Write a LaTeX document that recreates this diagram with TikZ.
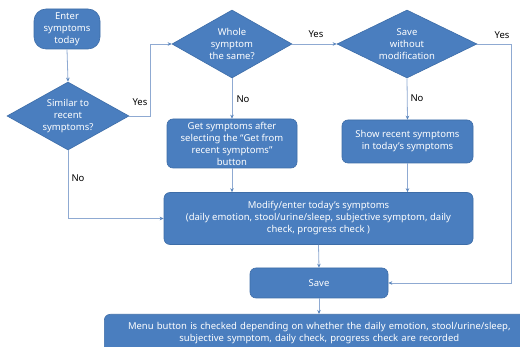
\documentclass[tikz,border=0pt]{standalone}
\usepackage{fontspec}
\setmainfont{Noto Sans}
\usetikzlibrary{shapes.geometric,arrows.meta}
\definecolor{boxfill}{HTML}{4A7EBF}
\definecolor{boxline}{HTML}{3D6DA8}
\definecolor{conn}{HTML}{8FAAD2}
\definecolor{tipc}{HTML}{5B86BE}
\begin{document}
\begin{tikzpicture}[x=1pt,y=-1pt,
  every node/.style={font=\fontsize{9.5}{12}\selectfont},
  boxst/.style={draw=boxline,fill=boxfill,text=white,line width=0.6pt,align=center,inner sep=0pt},
  rbox/.style={boxst,rectangle,rounded corners=6pt},
  dia/.style={boxst,diamond,aspect=1.8},
  conn/.style={draw=conn,line width=0.8pt},
  arr/.style={conn,-{Stealth[length=4pt,width=3.5pt,color=tipc,fill=tipc]}},
  lab/.style={text=black,inner sep=1pt}]
\clip (0,0) rectangle (520,347);
\fill[white] (0,0) rectangle (520,347);
% nodes
\node[rbox,rounded corners=12pt,minimum width=66pt,minimum height=40pt] (start) at (67,29) {Enter\\symptoms\\today};
\node[dia,minimum width=122pt,minimum height=68pt] (d1) at (68,116) {Similar to\\recent\\symptoms?};
\node[dia,minimum width=120pt,minimum height=68pt] (d2) at (232,44) {Whole\\symptom\\the same?};
\node[dia,minimum width=140pt,minimum height=68pt] (d3) at (407,44) {Save\\without\\modification};
\node[rbox,minimum width=130pt,minimum height=49pt] (get) at (232,143.5) {Get symptoms after\\selecting the ``Get from\\recent symptoms''\\button};
\node[rbox,minimum width=131pt,minimum height=43pt] (show) at (407.5,141.5) {Show recent symptoms\\in today's symptoms};
\node[rbox,minimum width=309pt,minimum height=52pt] (mod) at (318.5,218.5) {Modify/enter today's symptoms\\(daily emotion, stool/urine/sleep, subjective symptom, daily\\check, progress check )};
\node[rbox,minimum width=138pt,minimum height=30pt] (save) at (319,283) {Save};
\node[rbox,minimum width=430pt,minimum height=38pt,anchor=north west,text width=414pt] (fin) at (104,314) {Menu button is checked depending on whether the daily emotion, stool/urine/sleep,\\subjective symptom, daily check, progress check are recorded};
% helper coordinates
\coordinate (c1) at (150,44);
\coordinate (c2) at (511,44);
% connectors
\draw[arr] (start.south) -- (d1.north);
\draw[arr] (d1.east) -| (c1) -- (d2.west);
\node[lab] (y1) at (140,102) {Yes};
\draw[arr] (d2.south) -- (get.north);
\node[lab] (n2) at (243,99) {No};
\draw[arr] (get.south) -- (get.south |- mod.north);
\draw[arr] (d2.east) -- (d3.west);
\node[lab] (y2) at (316,34) {Yes};
\draw[arr] (d3.south) -- (show.north);
\node[lab] (n3) at (417,98) {No};
\draw[arr] (show.south) -- (show.south |- mod.north);
\draw[arr] (d1.south) |- (mod.west);
\node[lab] (n1) at (78,178) {No};
\draw[arr] (mod.south) -- (save.north);
\draw[arr] (d3.east) -- (c2) |- (save.east);
\node[lab] (y3) at (502,35) {Yes};
\draw[arr] (save.south) -- (save.south |- fin.north);
\end{tikzpicture}
\end{document}
